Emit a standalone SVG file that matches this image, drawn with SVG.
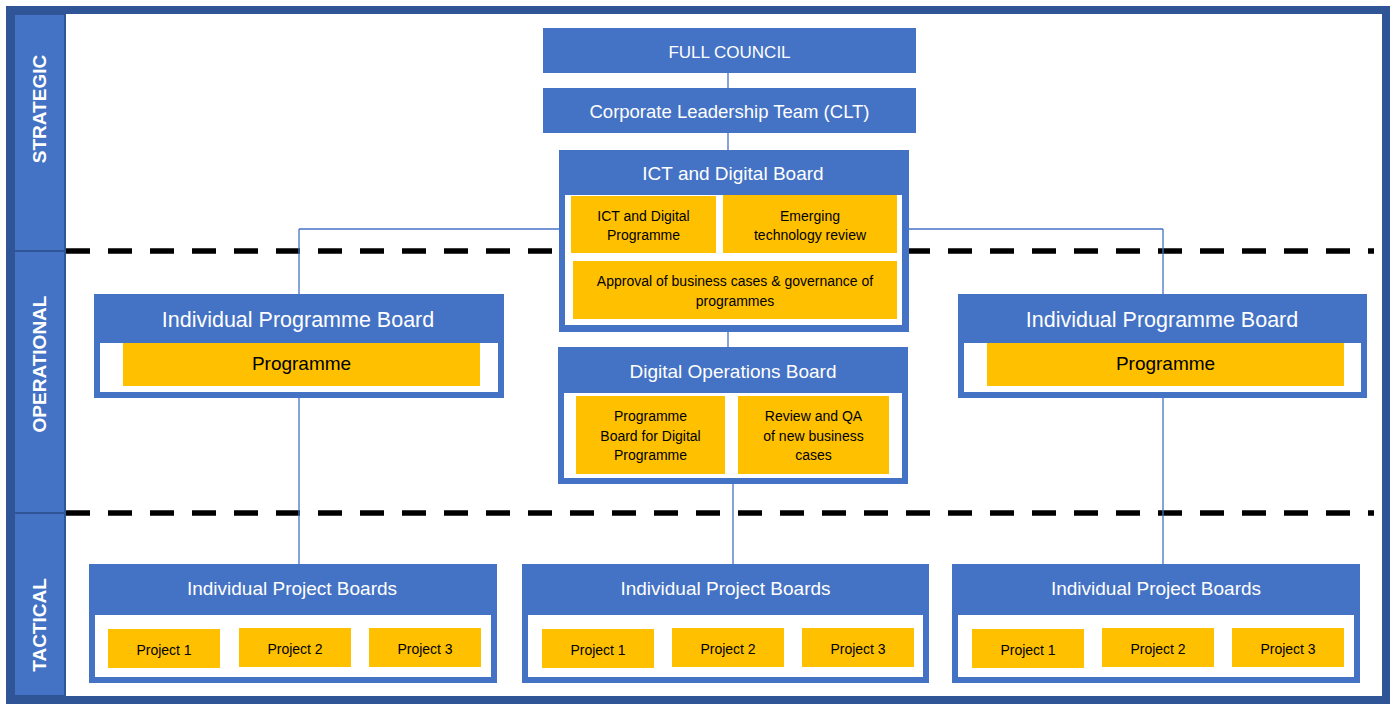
<svg xmlns="http://www.w3.org/2000/svg" width="1394" height="704" viewBox="0 0 1394 704">
<style>
.blue{fill:#4472C4}
.white{fill:#FFFFFF}
.org{fill:#FFC000}
.band{fill:#4472C4;stroke:#2F5597;stroke-width:2}
.bandtxt{font-family:"Liberation Sans",Arial,sans-serif;font-weight:bold;font-size:19px;fill:#FFFFFF;text-anchor:middle}
.hdr{font-family:"Liberation Sans",Arial,sans-serif;font-size:19px;fill:#FFFFFF;text-anchor:middle}
.sm{font-family:"Liberation Sans",Arial,sans-serif;font-size:14px;fill:#000000;text-anchor:middle}
.big{font-family:"Liberation Sans",Arial,sans-serif;font-size:19px;fill:#000000;text-anchor:middle}
.conn{stroke:#4472C4;stroke-width:1.3;fill:none}
.dash{stroke:#000000;stroke-width:5.5;stroke-dasharray:24 18;fill:none}
</style>
<rect x="0" y="0" width="1394" height="704" fill="#FFFFFF"/>
<!-- frame and bands -->
<g id="frame">
<rect x="10" y="10" width="1376" height="690" fill="#FFFFFF" stroke="#2F5597" stroke-width="8"/>
<rect class="band" x="14" y="14" width="51" height="237"/>
<rect class="band" x="14" y="251" width="51" height="262"/>
<rect class="band" x="14" y="513" width="51" height="183"/>
<text class="bandtxt" transform="translate(45.5,109) rotate(-90)">STRATEGIC</text>
<text class="bandtxt" transform="translate(45.5,364) rotate(-90)">OPERATIONAL</text>
<text class="bandtxt" transform="translate(45.5,625) rotate(-90)">TACTICAL</text>
</g>
<g id="dividers">
<line class="dash" x1="66" y1="251" x2="1374" y2="251"/>
<line class="dash" x1="66" y1="513" x2="1374" y2="513"/>
</g>
<!-- connectors -->
<g id="connectors">
<line class="conn" x1="728" y1="73" x2="728" y2="150"/>
<line class="conn" x1="728" y1="150" x2="728" y2="347"/>
<line class="conn" x1="299" y1="229" x2="1163" y2="229"/>
<line class="conn" x1="299" y1="229" x2="299" y2="294"/>
<line class="conn" x1="1163" y1="229" x2="1163" y2="294"/>
<line class="conn" x1="299" y1="398" x2="299" y2="620"/>
<line class="conn" x1="1163" y1="398" x2="1163" y2="620"/>
<line class="conn" x1="733" y1="484" x2="733" y2="564"/>
</g>
<!-- nodes -->
<g id="full-council">
<rect class="blue" x="543" y="28" width="373" height="45"/>
<text class="hdr" x="729.5" y="58" style="font-size:17px">FULL COUNCIL</text>
</g>
<g id="clt">
<rect class="blue" x="543" y="88" width="373" height="45"/>
<text class="hdr" x="729.5" y="117.5" style="font-size:18.5px">Corporate Leadership Team (CLT)</text>
</g>
<g id="ict-board">
<rect class="blue" x="559" y="150" width="350" height="182"/>
<rect class="white" x="565" y="195" width="337" height="130"/>
<text class="hdr" x="733" y="180">ICT and Digital Board</text>
<rect class="org" x="571" y="196" width="145" height="57"/>
<text class="sm" x="643.5" y="221">ICT and Digital</text>
<text class="sm" x="643.5" y="240">Programme</text>
<rect class="org" x="723" y="195" width="174" height="58"/>
<text class="sm" x="810" y="221">Emerging</text>
<text class="sm" x="810" y="240">technology review</text>
<rect class="org" x="573" y="261" width="324" height="58"/>
<text class="sm" x="735" y="286">Approval of business cases &amp; governance of</text>
<text class="sm" x="735" y="306">programmes</text>
</g>
<g id="digital-ops-board">
<rect class="blue" x="558" y="347" width="350" height="137"/>
<rect class="white" x="564" y="393" width="338" height="85"/>
<text class="hdr" x="733" y="378">Digital Operations Board</text>
<rect class="org" x="576" y="396" width="149" height="78"/>
<text class="sm" x="650.5" y="421">Programme</text>
<text class="sm" x="650.5" y="441">Board for Digital</text>
<text class="sm" x="650.5" y="460">Programme</text>
<rect class="org" x="738" y="396" width="151" height="78"/>
<text class="sm" x="813.5" y="421">Review and QA</text>
<text class="sm" x="813.5" y="441">of new business</text>
<text class="sm" x="813.5" y="460">cases</text>
</g>
<g id="prog-board-left">
<rect class="blue" x="94" y="294" width="410" height="104"/>
<rect class="white" x="100" y="343" width="398" height="49"/>
<rect class="org" x="123" y="343" width="357" height="43"/>
<text class="hdr" x="298" y="327" style="font-size:21.5px">Individual Programme Board</text>
<text class="big" x="301.5" y="370">Programme</text>
</g>
<g id="prog-board-right">
<rect class="blue" x="958" y="294" width="409" height="104"/>
<rect class="white" x="964" y="343" width="397" height="49"/>
<rect class="org" x="987" y="343" width="357" height="43"/>
<text class="hdr" x="1162" y="327" style="font-size:21.5px">Individual Programme Board</text>
<text class="big" x="1165.5" y="370">Programme</text>
</g>
<g id="project-boards-left">
<rect class="blue" x="89" y="564" width="408" height="119"/>
<rect class="white" x="95" y="615" width="396" height="62"/>
<text class="hdr" x="292" y="595">Individual Project Boards</text>
<rect class="org" x="108" y="629" width="112" height="39"/>
<text class="sm" x="164" y="655">Project 1</text>
<rect class="org" x="239" y="628" width="112" height="39"/>
<text class="sm" x="295" y="654">Project 2</text>
<rect class="org" x="369" y="628" width="112" height="39"/>
<text class="sm" x="425" y="654">Project 3</text>
</g>
<g id="project-boards-middle">
<rect class="blue" x="522" y="564" width="407" height="119"/>
<rect class="white" x="528" y="615" width="395" height="62"/>
<text class="hdr" x="725.5" y="595">Individual Project Boards</text>
<rect class="org" x="542" y="629" width="112" height="39"/>
<text class="sm" x="598" y="655">Project 1</text>
<rect class="org" x="672" y="628" width="112" height="39"/>
<text class="sm" x="728" y="654">Project 2</text>
<rect class="org" x="802" y="628" width="112" height="39"/>
<text class="sm" x="858" y="654">Project 3</text>
</g>
<g id="project-boards-right">
<rect class="blue" x="952" y="564" width="408" height="119"/>
<rect class="white" x="958" y="615" width="396" height="62"/>
<text class="hdr" x="1156" y="595">Individual Project Boards</text>
<rect class="org" x="972" y="629" width="112" height="39"/>
<text class="sm" x="1028" y="655">Project 1</text>
<rect class="org" x="1102" y="628" width="112" height="39"/>
<text class="sm" x="1158" y="654">Project 2</text>
<rect class="org" x="1232" y="628" width="112" height="39"/>
<text class="sm" x="1288" y="654">Project 3</text>
</g>
</svg>
